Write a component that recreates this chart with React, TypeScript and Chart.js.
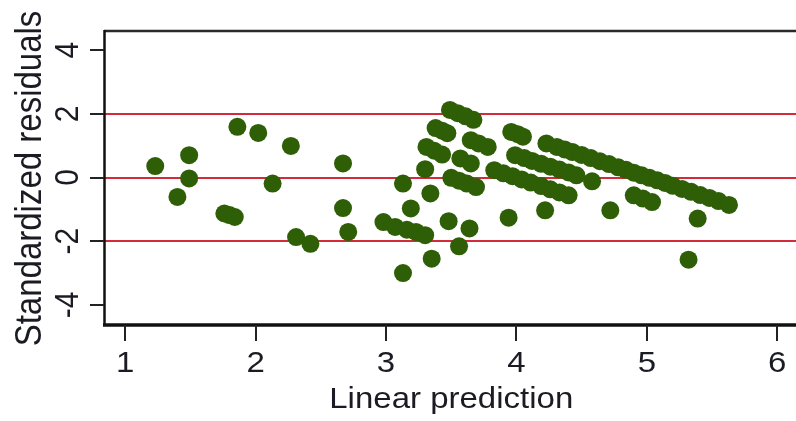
import React, { useEffect, useRef } from "react";
import { Chart, registerables } from "chart.js";

Chart.register(...registerables);

// Linear prediction (x) values
const predX: number[] = [
  1.23, 1.49, 1.49, 1.40, 1.76, 1.80, 1.84, 1.86, 2.02, 2.27, 2.13, 2.31, 2.42, 2.67, 2.67, 2.71,
  2.98, 3.07, 3.16, 3.23, 3.30, 3.13, 3.13, 3.19, 3.34, 3.30, 3.35, 3.56, 3.48, 3.64, 3.94, 4.22,
  4.72, 5.39, 5.32, 4.58, 4.90, 4.97, 5.04,
  3.31, 3.37, 3.43,
  3.38, 3.43, 3.47,
  3.49, 3.55, 3.61, 3.67,
  3.65, 3.71, 3.78,
  3.57, 3.65,
  3.50, 3.56, 3.62, 3.69,
  3.96, 4.01, 4.05,
  3.99, 4.06, 4.12, 4.19, 4.26, 4.33, 4.40, 4.46,
  3.83, 3.90, 3.97, 4.04, 4.11, 4.19, 4.26, 4.33, 4.40,
  4.23, 4.31, 4.37, 4.43, 4.50, 4.57, 4.64, 4.71, 4.78, 4.84, 4.90, 4.96, 5.02, 5.08, 5.14, 5.20,
  5.27, 5.34, 5.41, 5.48, 5.55, 5.63,
];

// Standardized residuals (y) values
const residY: number[] = [
  0.36, 0.70, -0.03, -0.61, -1.13, -1.18, -1.24, 1.59, 1.40, 0.99, -0.19, -1.87, -2.08, 0.44, -0.96, -1.71,
  -1.40, -1.55, -1.64, -1.71, -1.81, -0.19, -3.00, -0.97, -0.50, 0.26, -2.55, -2.16, -1.37, -1.60, -1.26, -1.03,
  -1.03, -1.29, -2.58, -0.12, -0.56, -0.66, -0.77,
  0.96, 0.84, 0.72,
  1.55, 1.47, 1.39,
  2.12, 2.02, 1.92, 1.81,
  1.17, 1.07, 0.96,
  0.60, 0.44,
  -0.01, -0.10, -0.19, -0.30,
  1.43, 1.36, 1.28,
  0.70, 0.61, 0.52, 0.43, 0.34, 0.25, 0.16, 0.07,
  0.23, 0.13, 0.04, -0.06, -0.16, -0.27, -0.37, -0.47, -0.56,
  1.07, 0.96, 0.88, 0.80, 0.71, 0.61, 0.51, 0.42, 0.32, 0.24, 0.15, 0.07, -0.01, -0.09, -0.17, -0.26,
  -0.36, -0.45, -0.55, -0.64, -0.74, -0.86,
];

const xTicks: number[] = [1, 2, 3, 4, 5, 6];
const yTicks: number[] = [-4, -2, 0, 2, 4];
const refLines: number[] = [-2, 0, 2];
const xTitle = "Linear prediction";
const yTitle = "Standardized residuals";

const GREEN = "#2e5e06";
const RED = "#d22c3c";
const INK = "#1b1b24";
const FONT = "'Liberation Sans', Arial, sans-serif";

const framePlugin = {
  id: "stataFrame",
  beforeDatasetsDraw(chart: any) {
    const { ctx, chartArea: a, scales } = chart;
    const ys = scales.y;
    ctx.save();
    ctx.strokeStyle = RED;
    ctx.lineWidth = 2;
    for (const v of refLines) {
      const py = Math.round(ys.getPixelForValue(v));
      ctx.beginPath();
      ctx.moveTo(a.left, py);
      ctx.lineTo(a.right, py);
      ctx.stroke();
    }
    ctx.restore();
  },
  afterDraw(chart: any) {
    const { ctx, chartArea: a, scales } = chart;
    const xs = scales.x;
    const ys = scales.y;
    ctx.save();
    // frame
    ctx.strokeStyle = "#2a2a2a";
    ctx.lineWidth = 2.5;
    ctx.beginPath();
    ctx.moveTo(a.left, a.top + 1);
    ctx.lineTo(a.right, a.top + 1);
    ctx.stroke();
    ctx.strokeStyle = "#111";
    ctx.lineWidth = 2.5;
    ctx.beginPath();
    ctx.moveTo(a.left + 0.5, a.top);
    ctx.lineTo(a.left + 0.5, a.bottom);
    ctx.stroke();
    ctx.lineWidth = 3.5;
    ctx.beginPath();
    ctx.moveTo(a.left - 1, a.bottom);
    ctx.lineTo(a.right, a.bottom);
    ctx.stroke();

    // tick marks
    ctx.lineWidth = 2;
    ctx.strokeStyle = "#222";
    for (const v of yTicks) {
      const py = Math.round(ys.getPixelForValue(v));
      ctx.beginPath();
      ctx.moveTo(a.left - 14, py);
      ctx.lineTo(a.left, py);
      ctx.stroke();
    }
    for (const v of xTicks) {
      const px = Math.round(xs.getPixelForValue(v));
      ctx.beginPath();
      ctx.moveTo(px, a.bottom);
      ctx.lineTo(px, a.bottom + 16);
      ctx.stroke();
    }

    // labels
    const k = 1.1;
    ctx.fillStyle = INK;
    ctx.textAlign = "center";
    ctx.textBaseline = "alphabetic";
    ctx.font = `30px ${FONT}`;
    for (const v of xTicks) {
      const px = xs.getPixelForValue(v);
      ctx.save();
      ctx.translate(px, a.bottom + 47);
      ctx.scale(k, 1);
      ctx.fillText(String(v), 0, 0);
      ctx.restore();
    }
    for (const v of yTicks) {
      const py = ys.getPixelForValue(v);
      ctx.save();
      ctx.translate(a.left - 26, py);
      ctx.rotate(-Math.PI / 2);
      ctx.scale(1, k);
      ctx.fillText(String(v), 0, 0);
      ctx.restore();
    }
    // x title
    ctx.save();
    ctx.translate(xs.getPixelForValue(3.5), a.bottom + 83);
    ctx.scale(k, 1);
    ctx.fillText(xTitle, 0, 0);
    ctx.restore();
    // y title
    ctx.font = `33px ${FONT}`;
    ctx.save();
    ctx.translate(41, (a.top + a.bottom) / 2 + 1);
    ctx.rotate(-Math.PI / 2);
    ctx.scale(1, 1.12);
    ctx.fillText(yTitle, 0, 0);
    ctx.restore();
    ctx.restore();
  },
};

export default function App() {
  const canvasRef = useRef<HTMLCanvasElement | null>(null);

  useEffect(() => {
    if (!canvasRef.current) return;
    const points = predX.map((x, i) => ({ x, y: residY[i] }));
    const chart = new Chart(canvasRef.current, {
      type: "scatter",
      data: {
        datasets: [
          {
            data: points,
            backgroundColor: GREEN,
            borderWidth: 0,
            pointRadius: 9,
            pointHoverRadius: 9,
          },
        ],
      },
      options: {
        animation: false,
        responsive: false,
        maintainAspectRatio: false,
        devicePixelRatio: 1,
        layout: { autoPadding: false, padding: { left: 104, top: 30, right: 0, bottom: 96 } },
        scales: {
          x: { type: "linear", min: 0.837, max: 6.144, display: false },
          y: { type: "linear", min: -4.63, max: 4.63, display: false },
        },
        plugins: {
          legend: { display: false },
          tooltip: { enabled: false },
        },
      },
      plugins: [framePlugin],
    });
    return () => chart.destroy();
  }, []);

  return (
    <div style={{ position: "fixed", left: 0, top: 0, width: 796, height: 421, background: "#fff" }}>
      <canvas ref={canvasRef} width={796} height={421} style={{ display: "block" }} />
    </div>
  );
}
